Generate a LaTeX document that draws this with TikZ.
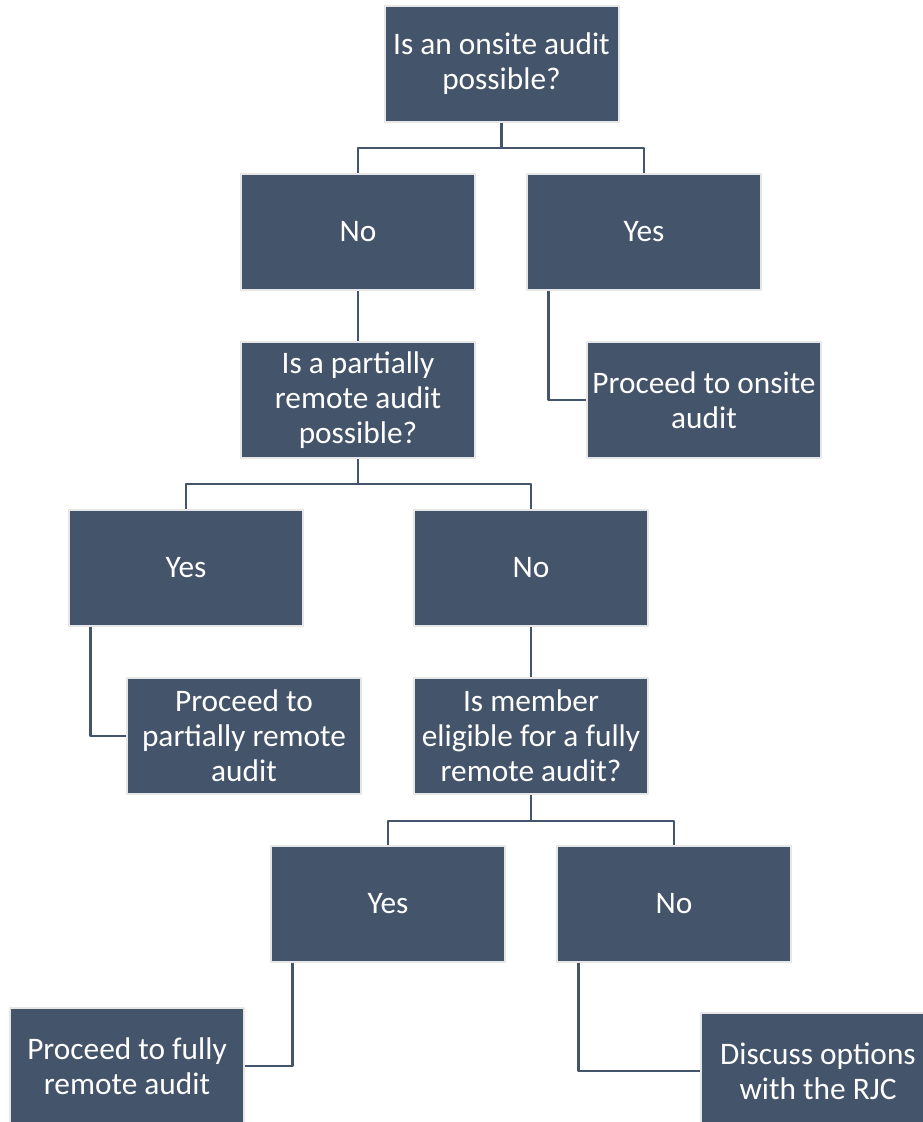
\documentclass[tikz,border=0pt]{standalone}
\usepackage{fontspec}
\setmainfont{Carlito}
\definecolor{boxfill}{HTML}{44546A}
\definecolor{boxedge}{HTML}{E7E6E6}
\begin{document}
\begin{tikzpicture}[x=0.75pt,y=-0.75pt,line join=round,
	box/.style={draw=boxedge,line width=1.5pt,fill=boxfill,text=white,align=center,
		minimum width=175.5pt,minimum height=87pt,inner sep=2pt,
		font=\fontsize{23.5pt}{26.2pt}\selectfont},
	link/.style={draw=boxfill,line width=1.8pt}]
		\useasboundingbox (0,0) rectangle (923,1122);
		\clip (0,0) rectangle (923,1122);
		\node[box] (onsiteq) at (501.5,64) {Is an onsite audit\\possible?};
		\node[box] (noA) at (358,232) {No};
		\node[box] (yesA) at (644,232) {Yes};
		\node[box] (onsite) at (704,400) {Proceed to onsite\\audit};
		\node[box] (partq) at (358,400) {Is a partially\\remote audit\\possible?};
		\node[box] (yesB) at (186,567.5) {Yes};
		\node[box] (noB) at (531,567.5) {No};
		\node[box] (partial) at (244,736) {Proceed to\\partially remote\\audit};
		\node[box] (fullq) at (531,736) {Is member\\eligible for a fully\\remote audit?};
		\node[box] (yesC) at (388,903.5) {Yes};
		\node[box] (noC) at (674,903.5) {No};
		\node[box] (fully) at (127,1066) {Proceed to fully\\remote audit};
		\node[box] (rjc) at (818,1071) {Discuss options\\with the RJC};
		\draw[link] (onsiteq.south)--++(0,25) -| (noA.north);
		\draw[link] (onsiteq.south)--++(0,25) -| (yesA.north);
		\draw[link] (noA.south)--(partq.north);
		\draw[link] ([xshift=17pt]yesA.south west) |- (onsite.west);
		\draw[link] (partq.south)--++(0,25) -| (yesB.north);
		\draw[link] (partq.south)--++(0,25) -| (noB.north);
		\draw[link] ([xshift=17pt]yesB.south west) |- (partial.west);
		\draw[link] (noB.south)--(fullq.north);
		\draw[link] (fullq.south)--++(0,26) -| (yesC.north);
		\draw[link] (fullq.south)--++(0,26) -| (noC.north);
		\draw[link] ([xshift=17pt]yesC.south west) |- (fully.east);
		\draw[link] ([xshift=17pt]noC.south west) |- (rjc.west);
		\end{tikzpicture}
\end{document}
